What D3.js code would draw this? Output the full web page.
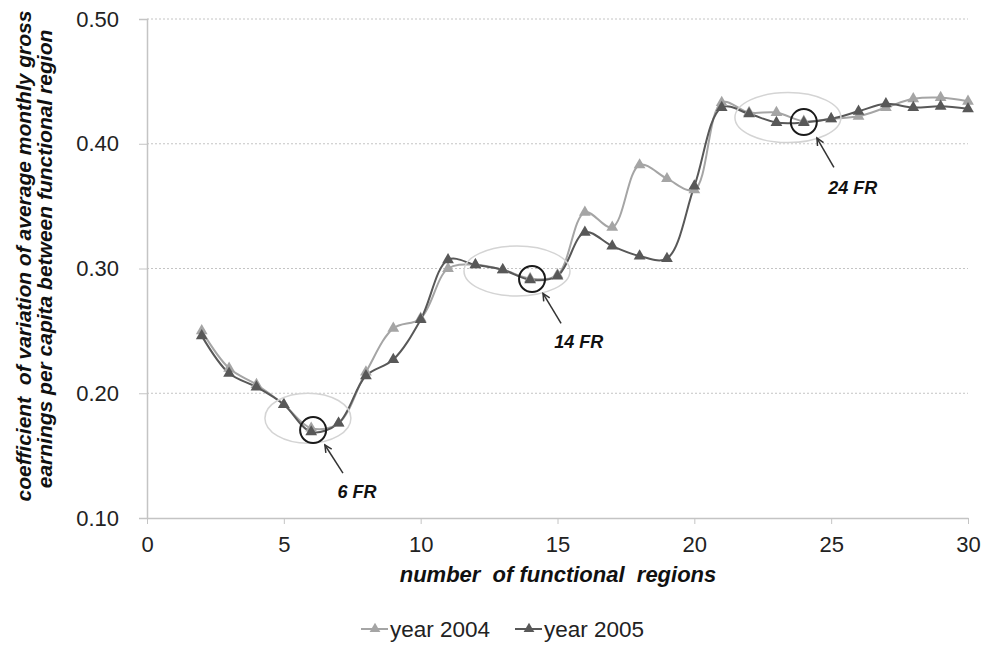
<!DOCTYPE html>
<html>
<head>
<meta charset="utf-8">
<script src="https://cdn.jsdelivr.net/npm/d3@7"></script>
<style>
  body { margin: 0; background: #fff; }
  .tick text { fill: #222; }
</style>
</head>
<body>
<div id="chart"></div>
<script>
// data
const regions = [2,3,4,5,6,7,8,9,10,11,12,13,14,15,16,17,18,19,20,21,22,23,24,25,26,27,28,29,30];
const cv2004 = [0.250,0.220,0.207,0.191,0.172,0.176,0.217,0.252,0.260,0.300,0.303,0.299,0.292,0.295,0.345,0.333,0.383,0.372,0.363,0.433,0.425,0.425,0.418,0.420,0.422,0.429,0.436,0.437,0.434];
const cv2005 = [0.246,0.216,0.205,0.191,0.169,0.176,0.214,0.227,0.259,0.307,0.303,0.299,0.291,0.294,0.329,0.318,0.310,0.308,0.366,0.429,0.424,0.417,0.417,0.420,0.426,0.432,0.429,0.430,0.428];
const seriesNames = ["year 2004", "year 2005"];
const xTicks = [0,5,10,15,20,25,30];
const yTicks = [0.10,0.20,0.30,0.40,0.50];
// annotations: ellipse centre, circled point, arrow tail -> head, label position
const annLabels = ["6 FR", "14 FR", "24 FR"];
const annEllipse = [[5.88,0.180],[13.52,0.298],[23.42,0.421]];
const annCircle = [[6.07,0.1705],[14.07,0.2916],[24.0,0.4174]];
const annArrowFrom = [[7.16,0.136],[15.13,0.256],[25.10,0.381]];
const annArrowTo = [[6.50,0.1585],[14.47,0.280],[24.48,0.4046]];
const annText = [[7.67,0.121],[15.78,0.241],[25.79,0.365]];

var margin = { top: 19, right: 19, bottom: 131, left: 147 };
const width = 987 - margin.left - margin.right;
const height = 649 - margin.top - margin.bottom;
const font = "Liberation Sans, Arial, sans-serif";

var svg = d3.select("#chart").append("svg")
    .attr("width", 987).attr("height", 649)
    .append("g")
    .attr("transform", "translate(" + margin.left + "," + margin.top + ")");

var x = d3.scaleLinear().domain([0, 30]).range([0, width]);
var y = d3.scaleLinear().domain([0.10, 0.50]).range([height, 0]);

// gridlines
svg.append("g")
    .selectAll("line")
    .data(yTicks.filter(d => d > 0.1))
    .join("line")
    .attr("x1", 0).attr("x2", width)
    .attr("y1", d => y(d)).attr("y2", d => y(d))
    .attr("stroke", "#c4c4c4")
    .attr("stroke-dasharray", "2,2");

// y axis
var yAxis = svg.append("g")
    .call(d3.axisLeft(y).tickValues(yTicks).tickFormat(d3.format(".2f")).tickSize(8).tickPadding(20));
yAxis.select(".domain").attr("stroke", "#c4c4c4").attr("stroke-width", 1.5);
yAxis.selectAll(".tick line").attr("stroke", "#c4c4c4");
yAxis.selectAll(".tick text")
    .attr("font-family", font)
    .attr("font-size", 22);

// x axis
var xAxis = svg.append("g")
    .attr("transform", "translate(0," + height + ")")
    .call(d3.axisBottom(x).tickValues(xTicks).tickSize(6).tickPadding(12).tickSizeOuter(0));
xAxis.select(".domain").attr("stroke", "#c4c4c4").attr("stroke-width", 1.5);
xAxis.selectAll(".tick line").attr("stroke", "#c4c4c4");
xAxis.selectAll(".tick text")
    .attr("font-family", font)
    .attr("font-size", 22);

// axis titles
svg.append("text")
    .attr("x", 411)
    .attr("y", 582 - margin.top)
    .attr("text-anchor", "middle")
    .attr("font-family", font)
    .attr("font-size", 22)
    .attr("font-weight", "bold")
    .attr("font-style", "italic")
    .attr("fill", "#111")
    .style("white-space", "pre")
    .text("number  of functional  regions");

var yTitle = svg.append("text")
    .attr("transform", "translate(" + (31 - margin.left) + "," + (256 - margin.top) + ") rotate(-90)")
    .attr("text-anchor", "middle")
    .attr("font-family", font)
    .attr("font-size", 21)
    .attr("font-weight", "bold")
    .attr("font-style", "italic")
    .attr("fill", "#111")
    .style("white-space", "pre");
yTitle.append("tspan").attr("x", 0).attr("dy", 0).text("coefficient  of variation of average monthly gross");
yTitle.append("tspan").attr("x", -3).attr("dy", 21).text("earnings per capita between functional region");

// series
var colors = ["#a5a5a5", "#585858"];
var allSeries = [cv2004, cv2005].map((vals, i) => ({
    name: seriesNames[i],
    color: colors[i],
    points: regions.map((r, j) => [r, vals[j]])
}));

var line = d3.line()
    .curve(d3.curveCatmullRom.alpha(0.5))
    .x(d => x(d[0]))
    .y(d => y(d[1]));

var tri = d3.symbol().type(d3.symbolTriangle).size(60);

allSeries.forEach(function(s) {
    svg.append("path")
        .datum(s.points)
        .attr("fill", "none")
        .attr("stroke", s.color)
        .attr("stroke-width", 2)
        .attr("d", line);
});
allSeries.forEach(function(s) {
    svg.append("g").selectAll("path")
        .data(s.points)
        .join("path")
        .attr("transform", d => "translate(" + x(d[0]) + "," + y(d[1]) + ")")
        .attr("d", tri)
        .attr("fill", s.color);
});

// annotations
var ann = svg.append("g");
annLabels.forEach(function(lbl, i) {
    ann.append("ellipse")
        .attr("cx", x(annEllipse[i][0])).attr("cy", y(annEllipse[i][1]))
        .attr("rx", i === 0 ? 43 : 53).attr("ry", 25)
        .attr("fill", "none").attr("stroke", "#d4d4d4").attr("stroke-width", 1.5);
    ann.append("circle")
        .attr("cx", x(annCircle[i][0])).attr("cy", y(annCircle[i][1]))
        .attr("r", 13)
        .attr("fill", "none").attr("stroke", "#1a1a1a").attr("stroke-width", 2);
    var x1 = x(annArrowFrom[i][0]), y1 = y(annArrowFrom[i][1]);
    var x2 = x(annArrowTo[i][0]), y2 = y(annArrowTo[i][1]);
    ann.append("line")
        .attr("x1", x1).attr("y1", y1).attr("x2", x2).attr("y2", y2)
        .attr("stroke", "#333").attr("stroke-width", 1.5);
    var ang = Math.atan2(y2 - y1, x2 - x1);
    var hl = 8;
    ann.append("path")
        .attr("d", "M" + (x2 - hl * Math.cos(ang - 0.45)) + "," + (y2 - hl * Math.sin(ang - 0.45)) +
             "L" + x2 + "," + y2 +
             "L" + (x2 - hl * Math.cos(ang + 0.45)) + "," + (y2 - hl * Math.sin(ang + 0.45)))
        .attr("fill", "none").attr("stroke", "#333").attr("stroke-width", 1.5);
    ann.append("text")
        .attr("x", x(annText[i][0])).attr("y", y(annText[i][1]))
        .attr("dy", "0.35em")
        .attr("text-anchor", "middle")
        .attr("font-family", font)
        .attr("font-size", 18)
        .attr("font-weight", "bold")
        .attr("font-style", "italic")
        .attr("fill", "#111")
        .text(lbl);
});

// legend
var legend = svg.append("g")
    .attr("transform", "translate(" + (361 - margin.left) + "," + (629 - margin.top) + ")");
var leg = legend.selectAll("g")
    .data(allSeries)
    .join("g")
    .attr("transform", (d, i) => "translate(" + (i * 154) + ",0)");
leg.append("line")
    .attr("x1", 0).attr("x2", 27)
    .attr("stroke", d => d.color).attr("stroke-width", 2);
leg.append("path")
    .attr("transform", "translate(14,0)")
    .attr("d", d3.symbol().type(d3.symbolTriangle).size(50))
    .attr("fill", d => d.color);
leg.append("text")
    .attr("x", 29).attr("dy", "0.35em")
    .attr("font-family", font)
    .attr("font-size", 22.5)
    .attr("fill", "#222")
    .text(d => d.name);
</script>
</body>
</html>
